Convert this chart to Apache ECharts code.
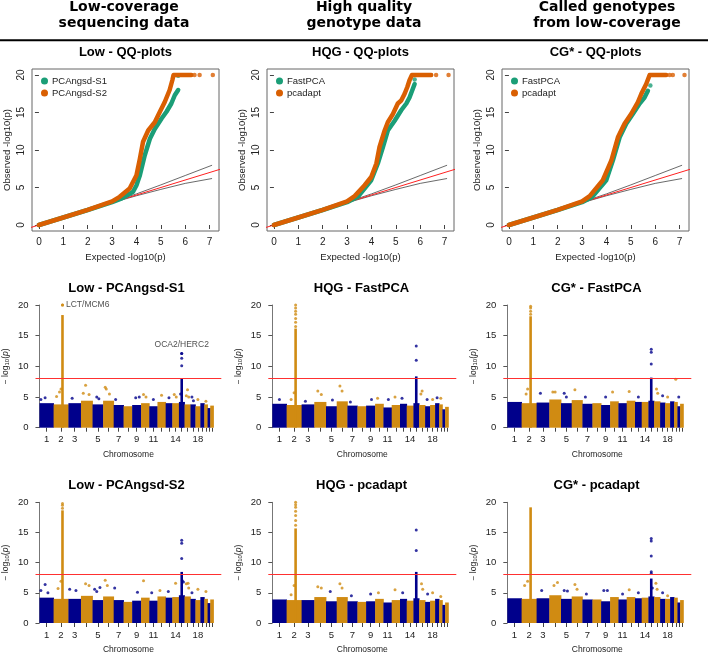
<!DOCTYPE html>
<html><head><meta charset="utf-8">
<script src="https://cdn.jsdelivr.net/npm/echarts@6/dist/echarts.min.js"></script>
<style>html,body{margin:0;padding:0;background:#fff}#c{width:708px;height:655px}</style>
</head><body><div id="c"></div>
<script>
// ---------------- DATA ----------------
const columnHeaders = [['Low-coverage','sequencing data'],['High quality','genotype data'],['Called genotypes','from low-coverage']];
const qqTitles = ['Low - QQ-plots','HQG - QQ-plots','CG* - QQ-plots'];
const qqLegendNames = [['PCAngsd-S1','PCAngsd-S2'],['FastPCA','pcadapt'],['FastPCA','pcadapt']];
const qqTicksX = [0,1,2,3,4,5,6,7];
const qqTicksY = [0,5,10,15,20];

// QQ curves [expected, observed]
const lowS1 = [[0,0],[1,1],[2,2],[3,3.05],[3.4,3.55],[3.86,4.43],[4.0,5.3],[4.14,6.64],[4.34,9.3],[4.55,11.5],[4.75,12.8],[5.03,14.2],[5.23,15.1],[5.43,16.2],[5.57,17.3],[5.71,18.0]];
const lowS1Top = [[5.71,19.9]];
const lowS2 = [[0,0],[1,1],[2,2.02],[3,3.15],[3.31,3.76],[3.72,4.87],[4.0,6.64],[4.14,8.85],[4.27,11.1],[4.48,12.6],[4.75,13.7],[4.96,15.1],[5.16,16.4],[5.36,18.0],[5.47,19.3],[5.52,20],[6.25,20]];
const lowS2Top = [[6.38,20],[6.59,20],[7.13,20]];
const hqgFast = [[0,0],[1,1],[2,2],[3,3.05],[3.44,3.76],[3.99,5.97],[4.26,8.2],[4.47,10.4],[4.67,12.6],[4.95,13.9],[5.22,15.3],[5.43,16.2],[5.56,17.0],[5.70,18.2],[5.77,18.8]];
const hqgFastTop = [[5.77,19.4]];
const hqgPca = [[0,0],[1,1],[2,2.02],[3,3.15],[3.31,3.85],[3.72,5.3],[3.99,6.4],[4.20,8.2],[4.33,10.4],[4.54,12.6],[4.67,13.7],[4.88,14.8],[5.08,16.2],[5.22,16.6],[5.36,17.5],[5.47,18.4],[5.56,19.3],[5.66,20],[6.45,20]];
const hqgPcaTop = [[6.65,20],[7.16,20]];
const cgFast = [[0,0],[1,1],[2,2],[3,3.05],[3.4,3.7],[3.99,5.97],[4.26,8.6],[4.54,11.7],[4.81,13.5],[5.08,14.8],[5.36,16.2],[5.56,17.0],[5.70,17.9]];
const cgFastTop = [[5.8,18.6]];
const cgPca = [[0,0],[1,1],[2,2.02],[3,3.15],[3.31,3.85],[3.85,5.97],[4.2,8.6],[4.47,11.7],[4.74,13.5],[5.01,14.8],[5.29,16.4],[5.43,17.5],[5.63,18.8],[5.77,20],[6.45,20]];
const cgPcaTop = [[6.59,20],[6.72,20],[7.2,20]];
// expected y = x line and 95% band
const qqDiagonal = [[-1,-1],[8,8]];
const qqUpper = [[0,0],[3,3.05],[4,4.15],[5,5.35],[6,6.6],[7.1,7.97]];
const qqLower = [[0,0],[3,2.97],[4,3.9],[5,4.75],[6,5.55],[7.1,6.2]];

// Manhattan
const chromosomes = ['1','2','3','4','5','6','7','8','9','10','11','12','13','14','15','16','17','18','19','20','21','22'];
const chromWidth = [14.3,15,12.7,11.7,10.7,10.7,10,8.7,9,8.3,8.3,8.3,6.7,6.7,5.7,6,5,5,4,3.3,2.7,3.3];
const chromTickLabels = ['1','2','3','','5','','7','','9','','11','','','14','','','','18','','','',''];
const manTicksY = [0,5,10,15,20];
const manThreshold = 8;
const manTitles = ['Low - PCAngsd-S1','HQG - FastPCA','CG* - FastPCA','Low - PCAngsd-S2','HQG - pcadapt','CG* - pcadapt'];

const manLowS1Bulk = [4.0,3.8,4.0,4.4,3.8,4.4,3.7,3.5,3.7,4.0,3.5,4.2,4.0,4.0,4.2,3.8,3.8,3.5,4.0,3.8,3.2,3.6];
const manHqgFastBulk = [3.9,3.7,3.8,4.2,3.5,4.3,3.6,3.5,3.6,3.9,3.3,3.7,3.9,3.6,4.0,3.7,3.5,3.7,4.0,3.8,3.0,3.4];
const manCgFastBulk = [4.2,4.0,4.1,4.6,4.0,4.5,3.9,4.0,3.7,4.3,4.0,4.4,4.2,4.2,4.4,4.3,4.1,4.0,4.3,4.2,3.5,3.9];
const manLowS2Bulk = [4.2,4.0,4.0,4.5,3.8,4.4,3.8,3.5,3.7,4.2,3.7,4.4,4.2,4.3,4.6,4.4,4.0,3.8,4.3,4.0,3.3,3.9];
const manHqgPcaBulk = [3.9,3.8,3.8,4.3,3.6,4.3,3.6,3.5,3.6,4.0,3.4,3.8,4.0,3.7,4.1,3.8,3.5,3.7,4.0,3.8,3.0,3.4];
const manCgPcaBulk = [4.1,4.0,4.1,4.6,4.0,4.4,3.9,3.9,3.6,4.3,3.9,4.3,4.1,4.2,4.4,4.3,4.0,4.0,4.3,4.2,3.4,3.8];

// dense peak columns [chromosome, position within chromosome, top]
const manLowS1Cols = [[2,0.6,18.2],[15,0.5,7.8]];
const manHqgFastCols = [[2,0.6,16.0],[15,0.5,8.2]];
const manCgFastCols = [[2,0.6,18.0],[15,0.5,8.0]];
const manLowS2Cols = [[2,0.6,18.5],[15,0.5,8.3]];
const manHqgPcaCols = [[2,0.6,15.5],[15,0.5,8.3]];
const manCgPcaCols = [[2,0.6,19.0],[15,0.5,7.2]];

// isolated points [chromosome, position within chromosome, -log10 p]
const manLowS1Dots = [[2,0.6,20.0],[15,0.5,10.1],[15,0.5,11.3],[15,0.5,12.1],[1,0.1,4.6],[1,0.4,4.9],[2,0.2,5.1],[2,0.4,5.8],[2,0.5,6.3],[3,0.3,4.8],[4,0.4,6.9],[4,0.2,5.6],[4,0.7,5.4],[5,0.4,5.0],[5,0.6,4.7],[6,0.2,6.6],[6,0.3,6.3],[6,0.6,5.5],[7,0.2,4.6],[9,0.4,4.9],[9,0.8,5.0],[10,0.3,5.4],[10,0.6,5.0],[11,0.5,4.6],[12,0.5,5.3],[13,0.5,4.9],[14,0.3,5.4],[14,0.6,5.0],[15,0.3,5.5],[16,0.3,5.2],[16,0.5,6.2],[16,0.7,5.0],[17,0.3,5.0],[17,0.6,4.4],[18,0.5,4.6],[20,0.5,4.3]];
const manHqgFastDots = [[2,0.6,16.5],[2,0.6,17.2],[2,0.6,17.8],[2,0.6,18.5],[2,0.6,19.0],[2,0.6,19.5],[2,0.6,20.0],[15,0.5,11.0],[15,0.5,13.3],[1,0.5,4.6],[2,0.3,4.6],[2,0.5,5.7],[3,0.3,4.3],[4,0.3,6.0],[4,0.6,5.4],[5,0.6,4.5],[6,0.3,6.8],[6,0.5,6.0],[7,0.3,4.2],[9,0.6,4.6],[10,0.3,4.8],[11,0.6,4.6],[12,0.4,5.0],[13,0.3,4.8],[16,0.5,6.0],[16,0.3,5.5],[17,0.4,4.6],[18,0.5,4.6],[19,0.5,4.9],[20,0.5,4.8]];
const manCgFastDots = [[2,0.6,18.5],[2,0.6,19.0],[2,0.6,19.5],[2,0.6,19.8],[15,0.5,10.4],[15,0.5,12.3],[15,0.5,12.8],[2,0.3,5.5],[2,0.4,6.3],[3,0.3,5.6],[4,0.3,5.8],[4,0.5,5.8],[5,0.3,5.6],[5,0.5,5.0],[6,0.3,6.2],[7,0.3,5.0],[9,0.5,5.0],[10,0.3,5.8],[12,0.3,5.9],[13,0.5,5.0],[16,0.4,6.3],[16,0.6,5.6],[17,0.5,5.2],[18,0.5,5.0],[20,0.5,7.9],[21,0.5,5.0]];
const manLowS2Dots = [[2,0.6,19.0],[2,0.6,19.5],[2,0.6,19.8],[15,0.5,10.7],[15,0.5,13.2],[15,0.5,13.7],[1,0.1,5.4],[1,0.4,6.4],[1,0.6,5.0],[2,0.3,5.7],[2,0.5,6.9],[3,0.1,5.6],[3,0.6,5.4],[4,0.4,6.5],[4,0.7,6.2],[5,0.2,5.6],[5,0.4,5.2],[5,0.7,5.9],[6,0.2,7.1],[6,0.4,6.2],[7,0.1,5.8],[9,0.6,5.1],[10,0.3,7.0],[11,0.3,5.0],[12,0.3,5.4],[13,0.4,5.2],[14,0.5,6.6],[15,0.6,7.0],[15,0.8,6.8],[16,0.3,6.5],[16,0.6,6.6],[16,0.7,5.8],[17,0.3,5.0],[18,0.5,5.6],[20,0.5,5.2]];
const manHqgPcaDots = [[2,0.6,16.2],[2,0.6,17.0],[2,0.6,17.8],[2,0.6,18.5],[2,0.6,19.2],[2,0.6,19.6],[2,0.6,20.0],[15,0.5,12.0],[15,0.5,15.4],[2,0.3,4.7],[2,0.5,6.2],[4,0.3,6.0],[4,0.6,5.8],[5,0.4,5.2],[6,0.3,6.5],[6,0.5,5.8],[7,0.4,4.5],[9,0.5,4.8],[10,0.4,5.0],[12,0.4,5.5],[13,0.4,5.0],[16,0.4,6.5],[16,0.6,5.6],[17,0.5,4.8],[18,0.5,5.0],[20,0.5,4.4]];
const manCgPcaDots = [[15,0.5,8.2],[15,0.5,8.5],[15,0.5,11.1],[15,0.5,13.6],[15,0.5,14.0],[2,0.2,6.2],[2,0.4,6.9],[3,0.4,5.4],[4,0.4,6.2],[4,0.7,6.7],[5,0.3,5.4],[5,0.6,5.3],[6,0.3,6.4],[6,0.5,5.6],[7,0.4,4.8],[9,0.3,5.4],[9,0.7,5.4],[11,0.5,4.8],[12,0.3,5.5],[13,0.5,5.0],[15,0.7,5.8],[16,0.3,6.6],[16,0.5,5.6],[17,0.5,5.0],[18,0.5,4.5]];

// gene labels [panel, chromosome, position, value, text, side]
const geneLabels = [[0,2,0.6,20.0,'LCT/MCM6','right'],[0,15,0.5,12.1,'OCA2/HERC2','top']];

// ---------------- BUILD ----------------
const FONT = '"Liberation Sans", Arial, Helvetica, sans-serif';
const BLUE = '#00008B', GOLD = '#D08B12', GREEN = '#1B9E77', ORANGE = '#D95F02';
const chromStart = []; { let acc = 0; chromWidth.forEach(w => { chromStart.push(acc); acc += w; }); }
const chromCenter = chromStart.map((s, i) => s + chromWidth[i] / 2);
const labelCenters = chromCenter.filter((c, i) => chromTickLabels[i] !== '');
const posOf = (chr, f) => chromStart[chr - 1] + f * chromWidth[chr - 1];
const colorOf = chr => (chr % 2 === 1 ? BLUE : GOLD);

const qqData = [[lowS1, lowS1Top, lowS2, lowS2Top],[hqgFast, hqgFastTop, hqgPca, hqgPcaTop],[cgFast, cgFastTop, cgPca, cgPcaTop]];
const manData = [
  [manLowS1Bulk, manLowS1Cols, manLowS1Dots],[manHqgFastBulk, manHqgFastCols, manHqgFastDots],[manCgFastBulk, manCgFastCols, manCgFastDots],
  [manLowS2Bulk, manLowS2Cols, manLowS2Dots],[manHqgPcaBulk, manHqgPcaCols, manHqgPcaDots],[manCgPcaBulk, manCgPcaCols, manCgPcaDots]];

const grids = [], xAxes = [], yAxes = [], series = [], legends = [], graphics = [];
const COL = 235;

// headers
columnHeaders.forEach((h, c) => {
  const cx = [124, 364, 607][c];
  h.forEach((t, k) => graphics.push({type:'text', x:cx, y:[7,23][k], style:{text:t, textAlign:'center', textVerticalAlign:'middle', font:'bold 14px "DejaVu Sans", sans-serif', fill:'#000'}}));
});
graphics.push({type:'rect', shape:{x:0, y:39.2, width:708, height:2}, style:{fill:'#000'}});

// QQ panels
qqTitles.forEach((title, c) => {
  const off = c * COL, gi = grids.length;
  grids.push({left:32 + off, top:69, width:187, height:162, show:true, borderColor:'#666', borderWidth:1, backgroundColor:'transparent'});
  graphics.push({type:'text', x:125.5 + off, y:52, style:{text:title, textAlign:'center', textVerticalAlign:'middle', font:'bold 13px ' + FONT, fill:'#000'}});
  xAxes.push({gridIndex:gi, type:'value', min:-0.284, max:7.384, splitLine:{show:false}, axisLine:{show:false},
    axisTick:{show:true, length:4, customValues:qqTicksX, lineStyle:{color:'#444'}},
    axisLabel:{customValues:qqTicksX, fontSize:10, color:'#222', margin:6, fontFamily:FONT},
    name:'Expected -log10(p)', nameLocation:'middle', nameGap:21, nameTextStyle:{fontSize:9.5, color:'#222', fontFamily:FONT}});
  yAxes.push({gridIndex:gi, type:'value', min:-0.8, max:20.8, splitLine:{show:false}, axisLine:{show:false},
    axisTick:{show:true, length:4, customValues:qqTicksY, lineStyle:{color:'#444'}},
    axisLabel:{customValues:qqTicksY, fontSize:10, color:'#222', margin:6, rotate:90, fontFamily:FONT},
    name:'Observed -log10(p)', nameLocation:'middle', nameGap:20, nameTextStyle:{fontSize:9.5, color:'#222', fontFamily:FONT}});
  const [g, gTop, o, oTop] = qqData[c];
  const [nG, nO] = qqLegendNames[c];
  const base = {xAxisIndex:gi, yAxisIndex:gi, silent:true, animation:false};
  series.push(Object.assign({type:'line', name:'band-up-' + c, data:qqUpper, showSymbol:false, lineStyle:{color:'#444', width:0.8}}, base));
  series.push(Object.assign({type:'line', name:'band-lo-' + c, data:qqLower, showSymbol:false, lineStyle:{color:'#444', width:0.8}}, base));
  series.push(Object.assign({type:'line', name:'diag-' + c, data:qqDiagonal, showSymbol:false, clip:true, lineStyle:{color:'#FF2020', width:1}}, base));
  series.push(Object.assign({type:'line', name:nG, color:GREEN, data:g, showSymbol:false, lineStyle:{color:GREEN, width:4.5, cap:'round', join:'round'}}, base));
  series.push(Object.assign({type:'scatter', name:nG, color:GREEN, data:gTop, symbolSize:4.5, itemStyle:{color:GREEN}}, base));
  series.push(Object.assign({type:'line', name:nO, color:ORANGE, data:o, showSymbol:false, lineStyle:{color:ORANGE, width:4.5, cap:'round', join:'round'}}, base));
  series.push(Object.assign({type:'scatter', name:nO, color:ORANGE, data:oTop, symbolSize:4.5, itemStyle:{color:ORANGE}}, base));
  legends.push({data:[nG, nO], left:36 + off, top:71, orient:'vertical', icon:'circle', itemWidth:7, itemHeight:7, itemGap:2, itemStyle:{}, selectedMode:false,
    textStyle:{fontSize:9.5, color:'#222', fontFamily:FONT, padding:[0,0,0,-1]}});
});

// Manhattan panels
manTitles.forEach((title, p) => {
  const c = p % 3, r = Math.floor(p / 3);
  const off = c * COL, top = [305, 502.3][r], gi = grids.length;
  grids.push({left:33.3 + off, top:top, width:188, height:122.7});
  graphics.push({type:'text', x:126.5 + off, y:[288, 485][r], style:{text:title, textAlign:'center', textVerticalAlign:'middle', font:'bold 13px ' + FONT, fill:'#000'}});
  xAxes.push({gridIndex:gi, type:'value', min:-4, max:184, splitLine:{show:false}, axisLine:{show:false},
    axisTick:{show:true, length:4, customValues:chromCenter, lineStyle:{color:'#444'}},
    axisLabel:{customValues:labelCenters, fontSize:9.5, color:'#222', margin:7, fontFamily:FONT,
      formatter:v => { const i = chromCenter.findIndex(cc => Math.abs(cc - v) < 1e-6); return i >= 0 ? chromTickLabels[i] : ''; }},
    name:'Chromosome', nameLocation:'middle', nameGap:22, nameTextStyle:{fontSize:8.5, color:'#222', fontFamily:FONT}});
  yAxes.push({gridIndex:gi, type:'value', min:0, max:20, interval:5, splitLine:{show:false},
    axisLine:{show:true, lineStyle:{color:'#777', width:1}},
    axisTick:{show:true, length:4, lineStyle:{color:'#555'}},
    axisLabel:{fontSize:9.5, color:'#222', margin:7, fontFamily:FONT},
    name:'{n|− log}{s|10}{n|(}{i|p}{n|)}', nameLocation:'middle', nameGap:25,
    nameTextStyle:{color:'#222', fontFamily:FONT, rich:{n:{fontSize:8.5, fontFamily:FONT}, s:{fontSize:6, fontFamily:FONT, padding:[4,0,0,0]}, i:{fontSize:8.5, fontStyle:'italic', fontFamily:FONT}}}});
  const [bulk, cols, dots] = manData[p];
  const base = {xAxisIndex:gi, yAxisIndex:gi, silent:true, animation:false};
  series.push(Object.assign({type:'custom', name:'bulk-' + p,
    data:bulk.map((h, i) => [chromStart[i], chromStart[i] + chromWidth[i], h, i]),
    renderItem:(params, api) => {
      const a = api.coord([api.value(0), 0]), b = api.coord([api.value(1), api.value(2)]);
      return {type:'rect', shape:{x:a[0], y:b[1], width:b[0] - a[0] + 0.4, height:a[1] - b[1]}, style:{fill:colorOf(api.value(3) + 1)}};
    }}, base));
  series.push(Object.assign({type:'custom', name:'cols-' + p,
    data:cols.map(d => [posOf(d[0], d[1]), d[2], d[0]]),
    renderItem:(params, api) => {
      const a = api.coord([api.value(0), 0]), b = api.coord([api.value(0), api.value(1)]);
      return {type:'rect', shape:{x:a[0] - 1.3, y:b[1] - 1, width:2.6, height:a[1] - b[1] + 1}, style:{fill:colorOf(api.value(2))}};
    }}, base));
  series.push(Object.assign({type:'scatter', name:'dots-' + p, symbolSize:3,
    data:dots.map(d => ({value:[posOf(d[0], d[1]), d[2]], itemStyle:{color:colorOf(d[0])}})),
    markLine:{silent:true, symbol:'none', animation:false, label:{show:false}, data:[{yAxis:manThreshold}], lineStyle:{color:'#FF3030', width:1, type:'solid'}}}, base));
  const notes = geneLabels.filter(g => g[0] === p);
  if (notes.length) series.push(Object.assign({type:'scatter', name:'genes-' + p, symbolSize:3,
    data:notes.map(g => ({value:[posOf(g[1], g[2]), g[3]], itemStyle:{color:colorOf(g[1])},
      label:{show:true, formatter:g[4], position:g[5], distance:g[5] === 'right' ? 2 : 3, fontSize:8.5, color:'#222', fontFamily:FONT}}))}, base));
});

const chart = echarts.init(document.getElementById('c'), null, {renderer:'canvas'});
chart.setOption({animation:false, backgroundColor:'#fff', textStyle:{fontFamily:FONT},
  grid:grids, xAxis:xAxes, yAxis:yAxes, series:series, legend:legends, graphic:graphics});
</script></body></html>
